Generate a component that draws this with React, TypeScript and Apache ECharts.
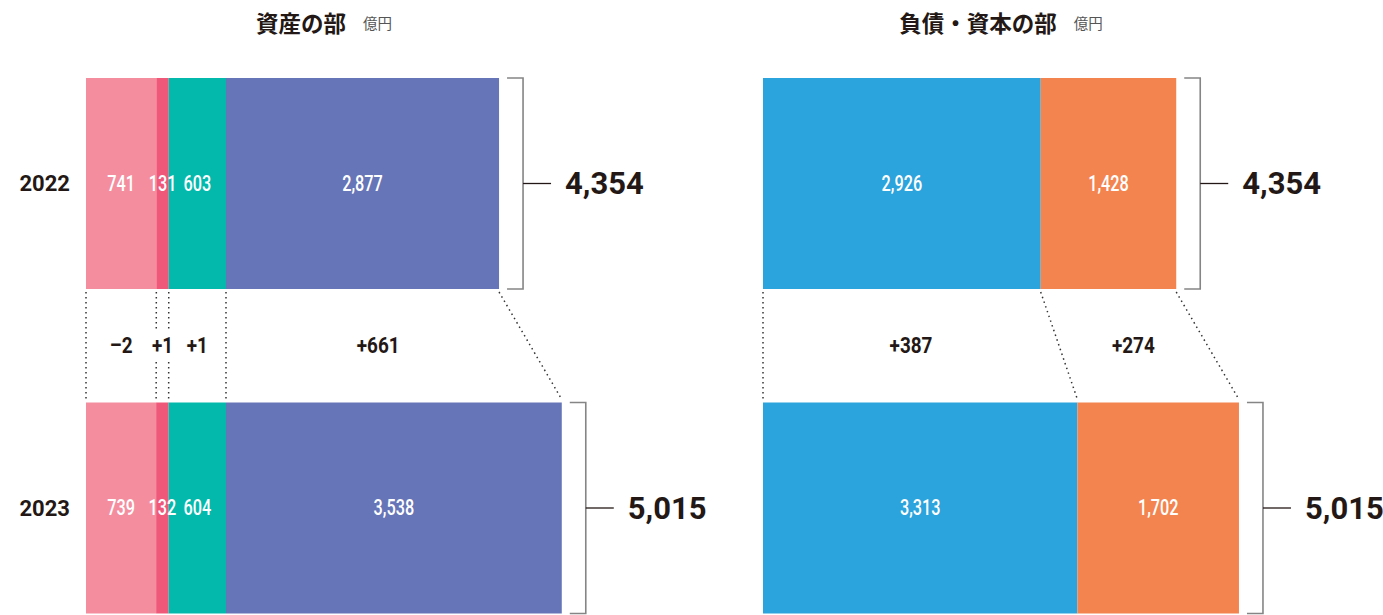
import React, { useEffect, useRef } from "react";
import * as echarts from "echarts";

// ---- data ----
const years = ["2022", "2023"];
const assetSeg1 = [741, 739];
const assetSeg2 = [131, 132];
const assetSeg3 = [603, 604];
const assetSeg4 = [2877, 3538];
const liabSeg1 = [2926, 3313];
const liabSeg2 = [1428, 1702];
const totals = [4354, 5015];
const assetColors = ["#F48E9F", "#EF5879", "#03B9AC", "#6675B7"];
const liabColors = ["#2BA3DC", "#F4844F"];
const titles = ["資産の部", "負債・資本の部"];
const unitLabel = "億円";

const BAR_W = 211;
const TEXT = "#231815";
const NUM_FONT = "Roboto, 'DejaVu Sans', sans-serif";
const CJK_FONT = "'Noto Sans CJK JP', 'Noto Sans', sans-serif";

const fmt = (v: number) => Number(v).toLocaleString("en-US");

export default function App() {
  const ref = useRef<HTMLDivElement>(null);

  useEffect(() => {
    const el = ref.current;
    if (!el) return;
    const chart = echarts.init(el, null, { renderer: "svg" });

    const panels = [
      { grid: 0, segs: [assetSeg1, assetSeg2, assetSeg3, assetSeg4], colors: assetColors },
      { grid: 1, segs: [liabSeg1, liabSeg2], colors: liabColors },
    ];

    const series: any[] = [];
    panels.forEach((pn) => {
      pn.segs.forEach((arr, i) => {
        series.push({
          type: "bar",
          name: `p${pn.grid}s${i}`,
          xAxisIndex: pn.grid,
          yAxisIndex: pn.grid,
          stack: `stack${pn.grid}`,
          barWidth: BAR_W,
          clip: false,
          silent: true,
          itemStyle: { color: pn.colors[i] },
          label: { show: false },
          data: arr,
        });
      });
    });

    const option: any = {
      animation: false,
      grid: [
        { left: 86, top: 183.5, width: 522, height: 324.5 },
        { left: 763, top: 183.5, width: 522, height: 324.5 },
      ],
      xAxis: [
        { type: "value", gridIndex: 0, min: 0, max: 5500, show: false },
        { type: "value", gridIndex: 1, min: 0, max: 5500, show: false },
      ],
      yAxis: [
        {
          type: "category",
          gridIndex: 0,
          data: years,
          inverse: true,
          boundaryGap: false,
          axisLine: { show: false },
          axisTick: { show: false },
          splitLine: { show: false },
          axisLabel: { margin: 16, fontSize: 22, fontWeight: "bold", fontFamily: NUM_FONT, color: TEXT },
        },
        { type: "category", gridIndex: 1, data: years, inverse: true, boundaryGap: false, show: false },
      ],
      series,
    };
    chart.setOption(option);

    const px = (g: number, v: number, c: number) =>
      chart.convertToPixel({ gridIndex: g } as any, [v, c]) as number[];

    const graphics: any[] = [];
    panels.forEach((pn, pi) => {
      const g = pn.grid;
      const cums = [0, 1].map((k) => {
        const out = [0];
        pn.segs.forEach((arr) => out.push(out[out.length - 1] + arr[k]));
        return out;
      });
      const pts = cums.map((cum, k) => cum.map((v) => px(g, v, k)));
      const p0 = pts[0];
      const p1 = pts[1];
      const yBot0 = p0[0][1] + BAR_W / 2;
      const yTop1 = p1[0][1] - BAR_W / 2;

      // value labels inside segments
      [0, 1].forEach((k) => {
        pn.segs.forEach((arr, j) => {
          const xa = pts[k][j][0];
          const xb = pts[k][j + 1][0];
          graphics.push({
            type: "text",
            silent: true,
            x: (xa + xb) / 2,
            y: pts[k][j][1],
            scaleX: 0.74,
            z: 10,
            style: {
              text: fmt(arr[k]),
              fill: "#fff",
              font: `500 22px ${NUM_FONT}`,
              align: "center",
              verticalAlign: "middle",
            },
          });
        });
      });

      // dotted connectors
      for (let i = 0; i < p0.length; i++) {
        graphics.push({
          type: "line",
          silent: true,
          shape: { x1: p0[i][0], y1: yBot0 + 3, x2: p1[i][0], y2: yTop1 - 3 },
          style: { stroke: "#333", lineWidth: 1.5, lineDash: [1.5, 3.5] },
          z: 1,
        });
      }
      // diff labels
      const yMid = (yBot0 + yTop1) / 2;
      pn.segs.forEach((arr, j) => {
        const xa = (p0[j][0] + p1[j][0]) / 2;
        const xb = (p0[j + 1][0] + p1[j + 1][0]) / 2;
        const d = arr[1] - arr[0];
        graphics.push({
          type: "text",
          silent: true,
          x: (xa + xb) / 2,
          y: yMid,
          scaleX: 0.86,
          z: 5,
          style: {
            text: d >= 0 ? `+${fmt(d)}` : `–${fmt(Math.abs(d))}`,
            fill: TEXT,
            font: `bold 22px ${NUM_FONT}`,
            align: "center",
            verticalAlign: "middle",
            backgroundColor: "#fff",
            padding: [5, 1],
          },
        });
      });
      // brackets and totals
      [0, 1].forEach((k) => {
        const row = pts[k];
        const end = row[row.length - 1];
        const x0 = end[0];
        const yc = end[1];
        const top = yc - BAR_W / 2;
        const bot = yc + BAR_W / 2;
        graphics.push({
          type: "polyline",
          silent: true,
          shape: { points: [[x0 + 8, top], [x0 + 24, top], [x0 + 24, bot], [x0 + 8, bot]] },
          style: { stroke: "#858585", lineWidth: 1.6, fill: null },
        });
        graphics.push({
          type: "line",
          silent: true,
          shape: { x1: x0 + 24, y1: yc, x2: x0 + 52, y2: yc },
          style: { stroke: TEXT, lineWidth: 1.3 },
        });
        graphics.push({
          type: "text",
          silent: true,
          x: x0 + 66,
          y: yc,
          style: {
            text: fmt(totals[k]),
            fill: TEXT,
            font: `bold 31px ${NUM_FONT}`,
            align: "left",
            verticalAlign: "middle",
          },
        });
      });
      // title
      const cx = (p1[0][0] + p1[p1.length - 1][0]) / 2;
      graphics.push({
        type: "text",
        silent: true,
        x: cx,
        y: 18,
        style: {
          text: `{a|${titles[pi]}}{b|${unitLabel}}`,
          align: "center",
          verticalAlign: "middle",
          rich: {
            a: { fontSize: 22.5, fontWeight: "bold", fontFamily: CJK_FONT, fill: TEXT, color: TEXT, lineHeight: 30, verticalAlign: "bottom" },
            b: { fontSize: 14.5, fontFamily: CJK_FONT, fill: "#555", color: "#555", padding: [0, 0, 3, 17], lineHeight: 30, verticalAlign: "bottom" },
          },
        },
      });
    });

    chart.setOption({ graphic: { elements: graphics } });

    return () => chart.dispose();
  }, []);

  return (
    <div
      ref={ref}
      style={{ position: "absolute", left: 0, top: 0, width: 1383, height: 615, background: "#fff" }}
    />
  );
}
